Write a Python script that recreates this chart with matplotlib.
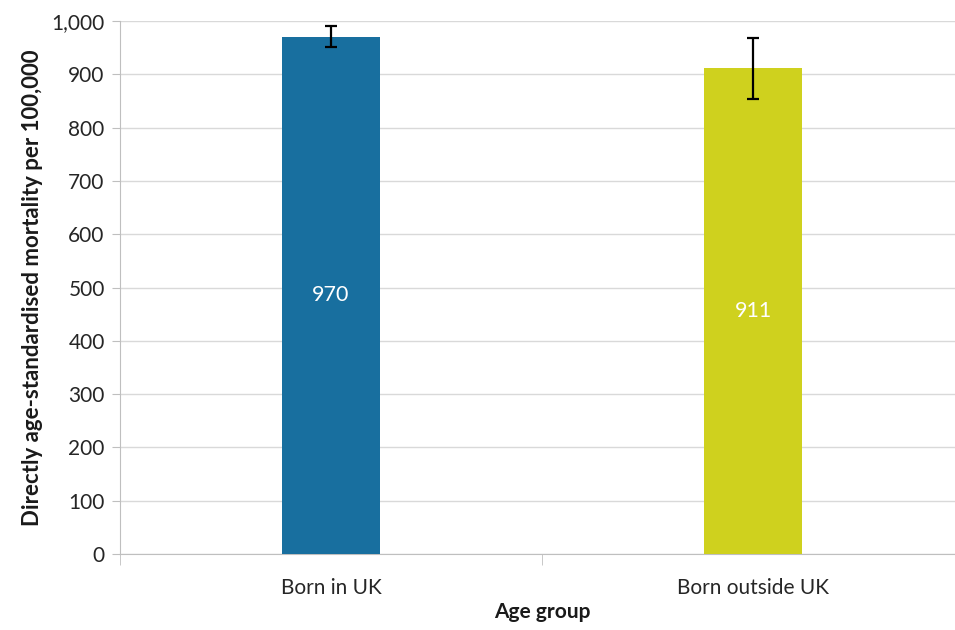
import matplotlib
matplotlib.use('Agg')
import matplotlib.pyplot as plt
from matplotlib.ticker import FuncFormatter, FixedLocator

categories = ['Born in UK', 'Born outside UK']
values = [970, 911]
err_low = [951, 854]
err_high = [990, 968]
colors = ['#186f9f', '#cfd11e']

plt.rcParams['font.family'] = ['Lato', 'DejaVu Sans']

fig = plt.figure(figsize=(9.55, 6.3), dpi=100)
ax = fig.add_axes([120 / 955, 1 - 554 / 630, 844 / 955, (554 - 21) / 630])

x = list(range(len(categories)))
yerr = [[v - lo for v, lo in zip(values, err_low)],
        [hi - v for v, hi in zip(values, err_high)]]
ax.bar(x, values, width=0.23, color=colors, zorder=3)
ax.errorbar(x, values, yerr=yerr, fmt='none', ecolor='black', elinewidth=1.6,
            capsize=4, capthick=1.6, zorder=4)

for xi, v in zip(x, values):
    ax.text(xi, v / 2, str(v), ha='center', va='center', color='white', fontsize=15.5)

ax.set_xlim(-0.5, len(categories) - 0.5)
ax.set_ylim(0, 1000)
ax.set_yticks(range(0, 1001, 100))
ax.yaxis.set_major_formatter(FuncFormatter(lambda v, p: f'{int(v):,}'))
ax.grid(axis='y', color='#d9d9d9', linewidth=1, zorder=0)

ax.set_xticks(x)
ax.set_xticklabels(categories)
ax.xaxis.set_minor_locator(FixedLocator([-0.5, 0.5, 1.5]))
ax.tick_params(axis='x', which='major', length=0, labelsize=15, pad=17, colors='#262626')
ax.tick_params(axis='x', which='minor', length=8, color='#bfbfbf')
ax.tick_params(axis='y', length=6, color='#bfbfbf', labelsize=15, labelcolor='#262626', pad=5)

for side in ['top', 'right']:
    ax.spines[side].set_visible(False)
for side in ['left', 'bottom']:
    ax.spines[side].set_color('#bfbfbf')

ax.set_ylabel('Directly age-standardised mortality per 100,000', fontsize=16,
              fontweight='bold', labelpad=6, color='#1a1a1a')
ax.set_xlabel('Age group', fontsize=15, fontweight='bold', labelpad=3, color='#1a1a1a')

fig.savefig('out.png', dpi=100)
